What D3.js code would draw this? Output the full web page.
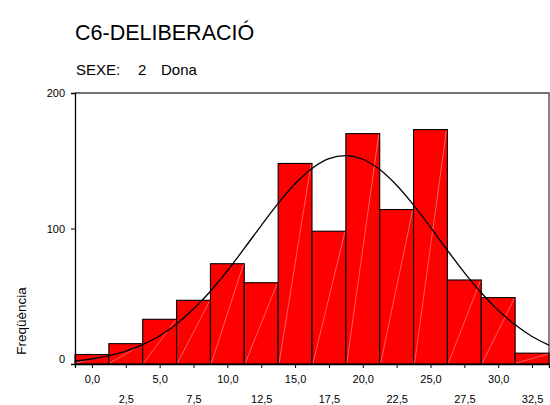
<!DOCTYPE html>
<html>
<head>
<meta charset="utf-8">
<script src="https://cdn.jsdelivr.net/npm/d3@7"></script>
<style>
  html, body { margin: 0; padding: 0; background: #fff; }
  svg { display: block; font-family: "Liberation Sans", Arial, sans-serif; }
</style>
</head>
<body>
<svg id="chart" width="550" height="405"></svg>
<script>
// ---- data ----
const title = "C6-DELIBERACIÓ";
const subtitleParts = ["SEXE:", "2", "Dona"];
const yLabel = "Freqüència";
const binCenters = [0, 2.5, 5, 7.5, 10, 12.5, 15, 17.5, 20, 22.5, 25, 27.5, 30, 32.5];
const categories = ["0,0", "2,5", "5,0", "7,5", "10,0", "12,5", "15,0", "17,5", "20,0", "22,5", "25,0", "27,5", "30,0", "32,5"];
const counts = [7, 15, 33, 47, 74, 60, 148, 98, 170, 114, 173, 62, 49, 8];
const binWidth = 2.5;
const yTicks = [0, 100, 200];
// normal curve (x value, frequency)
const curveX = [-1.25, 0, 1.25, 2.5, 3.75, 5, 6.25, 7.5, 8.75, 10, 11.25, 12.5, 13.75, 15, 16.25, 17.5, 18.75, 20, 21.25, 22.5, 23.75, 25, 26.25, 27.5, 28.75, 30, 31.25, 32.5, 33.75];
const curveY = [2.2, 3.7, 6.1, 9.5, 14.3, 20.9, 29.6, 40.6, 53.7, 68.8, 85.3, 102.2, 118.5, 133.0, 144.3, 151.5, 153.8, 151.1, 143.5, 131.9, 117.3, 100.9, 83.9, 67.5, 52.6, 39.6, 28.9, 20.3, 13.9];

// ---- layout ----
const pLeft = 75, pRight = 549, pTop = 93, pBottom = 364;
const svg = d3.select("#chart");

const x = d3.scaleLinear().domain([-1.25, 33.75]).range([pLeft, pRight]);
const y = d3.scaleLinear().domain([0, 200]).range([pBottom, pTop]);

// titles
svg.append("text").attr("x", 75).attr("y", 40)
  .attr("font-size", 21.5).attr("fill", "#000").text(title);
const subX = [76, 138, 161];
subtitleParts.forEach((t, i) => {
  svg.append("text").attr("x", subX[i]).attr("y", 75)
    .attr("font-size", 15).attr("fill", "#000").text(t);
});

// frame (top & right)
svg.append("path")
  .attr("d", `M${pLeft},${pTop}H${pRight}V${pBottom}`)
  .attr("fill", "none").attr("stroke", "#444").attr("stroke-width", 1.3);

// bars
const bars = svg.append("g");
binCenters.forEach((c, i) => {
  const x0 = x(c - binWidth / 2), x1 = x(c + binWidth / 2);
  const yt = y(counts[i]);
  bars.append("rect")
    .attr("x", x0).attr("y", yt)
    .attr("width", x1 - x0).attr("height", y(0) - yt)
    .attr("fill", "#ff0000").attr("stroke", "#000").attr("stroke-width", 1.1);
  bars.append("line")
    .attr("x1", x0 + 1).attr("y1", y(0) - 1)
    .attr("x2", x1 - 1).attr("y2", yt + 1)
    .attr("stroke", "#ff9c9c").attr("stroke-width", 0.6);
});

// normal curve
const line = d3.line().x((d, i) => x(curveX[i])).y(d => y(d)).curve(d3.curveCatmullRom);
svg.append("path").datum(curveY)
  .attr("d", line)
  .attr("fill", "none").attr("stroke", "#000").attr("stroke-width", 1.3);

// y axis
const yAxis = svg.append("g").attr("transform", `translate(${pLeft},0)`)
  .call(d3.axisLeft(y).tickValues(yTicks).tickSize(4).tickPadding(6).tickFormat(d3.format("d")));
yAxis.select(".domain").attr("stroke", "#000").attr("stroke-width", 1.3);
yAxis.selectAll(".tick line").attr("stroke", "#000");
yAxis.selectAll("text").attr("font-size", 11).attr("font-family", "Liberation Sans, Arial, sans-serif")
  .attr("fill", "#000")
  .attr("dy", d => d === 0 ? "-0.1em" : "0.32em");

// x axis
const xAxis = svg.append("g").attr("transform", `translate(0,${pBottom})`)
  .call(d3.axisBottom(x).tickValues(binCenters).tickSize(4)
    .tickFormat((d, i) => categories[i]));
xAxis.select(".domain").attr("stroke", "#000").attr("stroke-width", 1.3);
xAxis.selectAll(".tick line").attr("stroke", "#000");
xAxis.selectAll("text").attr("font-size", 11).attr("font-family", "Liberation Sans, Arial, sans-serif")
  .attr("fill", "#000").attr("dy", 0)
  .attr("y", (d, i) => i % 2 === 0 ? 19 : 39);

// y label
svg.append("text")
  .attr("transform", "translate(26,321) rotate(-90)")
  .attr("text-anchor", "middle").attr("font-size", 13.5).attr("fill", "#000")
  .text(yLabel);
</script>
</body>
</html>
